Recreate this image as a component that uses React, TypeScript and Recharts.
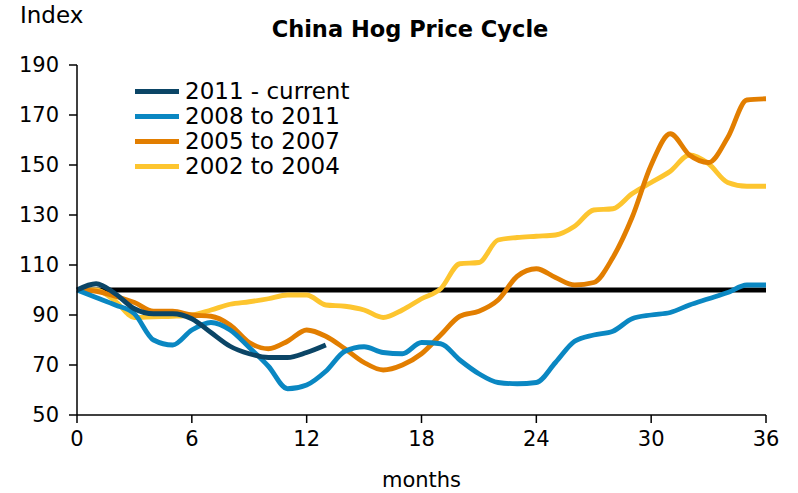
import { LineChart, Line, XAxis, YAxis, ReferenceLine } from "recharts";

const months = [
  0, 1, 2, 3, 4, 5, 6, 7, 8, 9, 10, 11, 12, 13, 14, 15, 16, 17, 18, 19, 20, 21, 22, 23, 24, 25, 26, 27, 28, 29, 30, 31,
  32, 33, 34, 35, 36,
];

const cycle2011 = [100, 102.5, 98.5, 92.5, 90.5, 90.5, 88.5, 83, 77.5, 74.5, 73, 73, 75, 78];

const cycle2008 = [
  100, 97, 94, 90.5, 80, 78, 84, 87, 84, 77, 69.5, 60.5, 62, 67.5, 75.5, 77.3, 75, 74.5, 79, 78.5, 72, 66.5, 63, 62.5, 63,
  71, 79.5, 82, 83.5, 88.5, 90, 91, 94, 96.5, 99, 102, 102,
];

const cycle2005 = [
  100, 99.5, 97.5, 95, 91.5, 91.5, 90, 89.5, 86, 79, 76.5, 79.5, 84, 81.5, 76.5, 71, 68, 70, 74.5, 82, 89.5, 91.5, 96,
  105.5, 108.5, 105, 102, 103, 113, 129, 150, 162.5, 154, 151, 161, 176, 176.5,
];

const cycle2002 = [
  100, 100, 95.5, 89, 89.3, 89.5, 90, 92, 94.3, 95.3, 96.5, 98, 98, 94, 93.5, 92, 89, 92, 96.5, 100.5, 110.5, 111, 120,
  121, 121.5, 122, 125.5, 132, 132.5, 138.5, 143, 147.5, 154, 150.5, 143, 141.5, 141.5,
];

const xTicks = [0, 6, 12, 18, 24, 30, 36];
const yTicks = [50, 70, 90, 110, 130, 150, 170, 190];

const series = [
  { key: "c2011", name: "2011 - current", color: "#0b4566" },
  { key: "c2008", name: "2008 to 2011", color: "#0a87c2" },
  { key: "c2005", name: "2005 to 2007", color: "#e27e00" },
  { key: "c2002", name: "2002 to 2004", color: "#fdc52f" },
];

const data = months.map((m, i) => ({
  month: m,
  c2011: cycle2011[i],
  c2008: cycle2008[i],
  c2005: cycle2005[i],
  c2002: cycle2002[i],
}));

const FONT = "'DejaVu Sans', Verdana, sans-serif";

export default function App() {
  return (
    <div style={{ position: "relative", width: 798, height: 493, background: "#fff" }}>
      <style>{`body{margin:0}`}</style>
      <LineChart width={798} height={493} data={data} margin={{ top: 65, right: 32, left: 0, bottom: 0 }}>
        <XAxis
          dataKey="month"
          type="number"
          domain={[0, 36]}
          ticks={xTicks}
          tickSize={8}
          tickMargin={8}
          height={78}
          axisLine={{ stroke: "#000", strokeWidth: 1.5 }}
          tickLine={{ stroke: "#000", strokeWidth: 1.5 }}
          tick={{ fill: "#000", fontSize: 21, fontFamily: FONT }}
          label={{ value: "months", position: "insideBottom", offset: 6, fill: "#000", fontSize: 21, fontFamily: FONT }}
        />
        <YAxis
          type="number"
          domain={[50, 190]}
          ticks={yTicks}
          width={77}
          tickSize={8}
          tickMargin={10}
          axisLine={{ stroke: "#000", strokeWidth: 1.5 }}
          tickLine={{ stroke: "#000", strokeWidth: 1.5 }}
          tick={{ fill: "#000", fontSize: 21, fontFamily: FONT }}
        />
        <ReferenceLine y={100} stroke="#000" strokeWidth={5} />
        {[...series].reverse().map((s) => (
          <Line
            key={s.key}
            dataKey={s.key}
            name={s.name}
            type="monotone"
            stroke={s.color}
            strokeWidth={4.8}
            dot={false}
            activeDot={false}
            isAnimationActive={false}
          />
        ))}
      </LineChart>
      <div style={{ position: "absolute", left: 20, top: 3.5, fontFamily: FONT, fontSize: 23, lineHeight: "23px" }}>
        Index
      </div>
      <div
        style={{
          position: "absolute",
          left: 0,
          width: 820,
          top: 17.5,
          textAlign: "center",
          fontFamily: FONT,
          fontSize: 22.5,
          lineHeight: "22.5px",
          fontWeight: "bold",
        }}
      >
        China Hog Price Cycle
      </div>
      <div style={{ position: "absolute", left: 135, top: 78.4, fontFamily: FONT, fontSize: 23, color: "#000" }}>
        {series.map((s) => (
          <div key={s.key} style={{ display: "flex", alignItems: "center", height: 25.3 }}>
            <span style={{ display: "inline-block", width: 44, height: 5, background: s.color, marginRight: 6 }} />
            <span style={{ lineHeight: "23px", whiteSpace: "pre" }}>{s.name}</span>
          </div>
        ))}
      </div>
    </div>
  );
}
